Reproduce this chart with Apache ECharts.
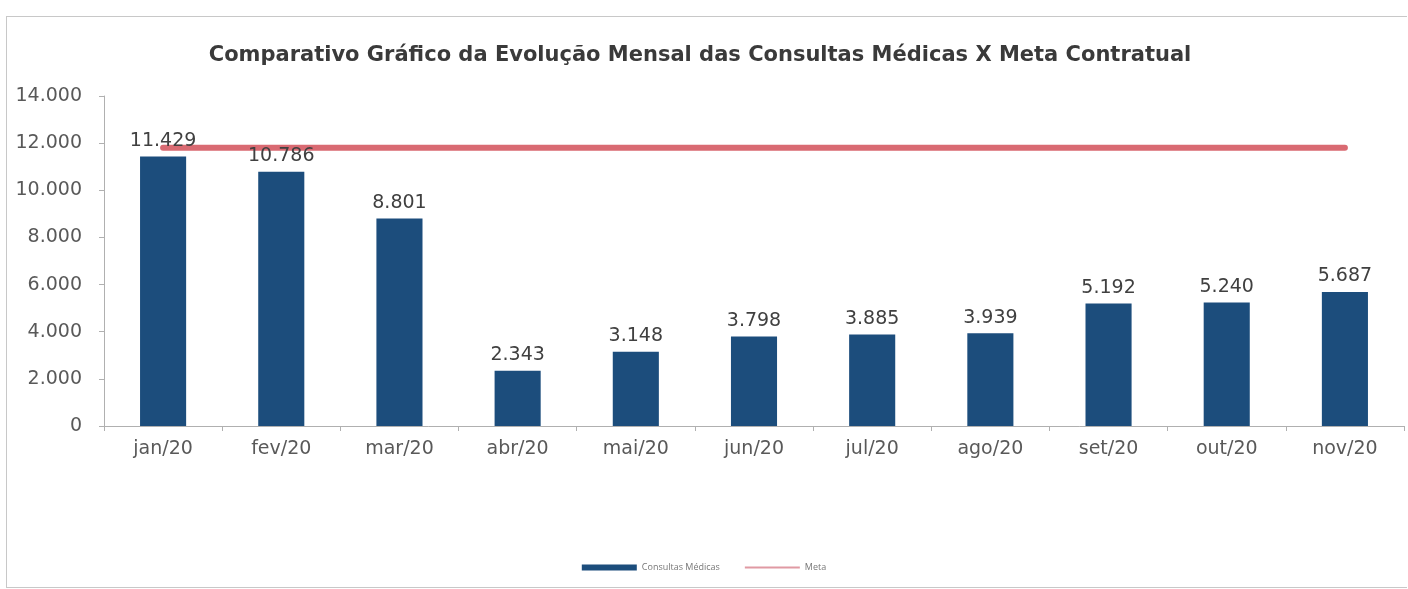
<!DOCTYPE html>
<html>
<head>
<meta charset="utf-8">
<script src="https://cdn.jsdelivr.net/npm/echarts@6/dist/echarts.min.js"></script>
<style>
  html, body { margin: 0; padding: 0; background: #fff; }
  #frame { position: absolute; left: 6px; top: 16px; width: 1400px; height: 570px; border: 1px solid #c8c8c8; border-right: none; }
  #chart { position: absolute; left: 0; top: 0; width: 1408px; height: 589px; }
</style>
</head>
<body>
<div id="frame"></div>
<div id="chart"></div>
<script>
// meses e valores
var categorias = ['jan/20', 'fev/20', 'mar/20', 'abr/20', 'mai/20', 'jun/20', 'jul/20', 'ago/20', 'set/20', 'out/20', 'nov/20'];
var consultas = [11429, 10786, 8801, 2343, 3148, 3798, 3885, 3939, 5192, 5240, 5687];
var meta = [11800, 11800, 11800, 11800, 11800, 11800, 11800, 11800, 11800, 11800, 11800];
var ticksY = [0, 2000, 4000, 6000, 8000, 10000, 12000, 14000];

function fmt(v) {
    return String(v).replace(/\B(?=(\d{3})+(?!\d))/g, '.');
}

var myChart = echarts.init(document.getElementById('chart'));
var option = {
    animation: false,
    title: {
        text: 'Comparativo Gráfico da Evolução Mensal das Consultas Médicas X Meta Contratual',
        left: 695,
        textAlign: 'center',
        top: 40,
        textStyle: { fontFamily: 'DejaVu Sans', fontWeight: 'bold', fontSize: 21, color: '#3a3a3a' }
    },
    legend: {
        bottom: 12,
        left: 'center',
        itemWidth: 55,
        itemHeight: 6,
        itemGap: 25,
        textStyle: { fontSize: 9, color: '#777', fontFamily: 'Open Sans' },
        data: [
            { name: 'Consultas Médicas', icon: 'rect' },
            { name: 'Meta', icon: 'path://M0,0 L55,0 L55,2 L0,2 Z', itemStyle: { color: '#e09aa3' } }
        ]
    },
    grid: { left: 104, right: 4, top: 96, bottom: 163 },
    xAxis: {
        type: 'category',
        data: categorias,
        axisLine: { lineStyle: { color: '#b0b0b0' } },
        axisTick: { show: true, alignWithLabel: false, lineStyle: { color: '#b0b0b0' } },
        axisLabel: { fontSize: 19, color: '#595959', fontFamily: 'DejaVu Sans', margin: 14 }
    },
    yAxis: {
        type: 'value',
        min: ticksY[0],
        max: ticksY[ticksY.length - 1],
        interval: 2000,
        axisLine: { show: true, lineStyle: { color: '#b0b0b0' } },
        axisTick: { show: true, lineStyle: { color: '#b0b0b0' } },
        splitLine: { show: false },
        axisLabel: { fontSize: 19, color: '#595959', fontFamily: 'DejaVu Sans', margin: 22, formatter: fmt }
    },
    series: [
        {
            name: 'Consultas Médicas',
            type: 'bar',
            barWidth: '39%',
            itemStyle: { color: '#1c4d7c' },
            label: {
                show: true,
                position: 'top',
                distance: 6,
                fontSize: 19,
                color: '#404040',
                fontFamily: 'DejaVu Sans',
                formatter: function (p) { return fmt(p.value); }
            },
            data: consultas
        },
        {
            name: 'Meta',
            type: 'line',
            symbol: 'none',
            z: 1,
            itemStyle: { color: '#d96a72' },
            lineStyle: { color: '#d96a72', width: 6, cap: 'round' },
            data: meta
        }
    ]
};
myChart.setOption(option);
</script>
</body>
</html>
